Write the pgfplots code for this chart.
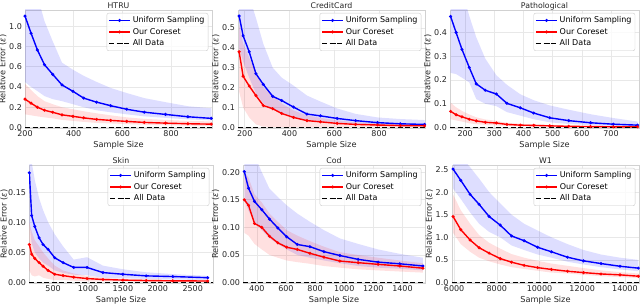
\documentclass[border=0pt]{standalone}
\usepackage{fontspec}
\setmainfont{DejaVu Sans}
\usepackage{pgfplots}
\pgfplotsset{compat=1.18}
\usepgfplotslibrary{fillbetween}

\pgfplotsset{
  base/.style={
    scale only axis, height=118pt,
    grid=major, grid style={color=black!9, line width=0.6pt},
    axis line style={black!18, line width=0.6pt},
    major tick length=0pt,
    /pgf/number format/assume math mode=true,
    /pgf/number format/1000 sep={},
    scaled ticks=false,
    ticklabel style={font=\fontsize{8}{9}\selectfont, text=black!85},
    xticklabel style={yshift=1pt},
    yticklabel style={xshift=0.5pt},
    label style={font=\fontsize{8.2}{9}\selectfont, text=black!85},
    every axis title shift=0pt,
    title style={font=\fontsize{7.8}{9}\selectfont, text=black!85, at={(0.5,1)}, anchor=base, yshift=1.8pt},
    xlabel={Sample Size}, ylabel={Relative Error (\textit{ε})},
    xlabel style={yshift=2pt}, ylabel style={yshift=-4pt},
    legend style={at={(0.98,0.975)}, anchor=north east, font=\fontsize{8}{9}\selectfont,
      draw=black!20, rounded corners=2pt, fill=white, fill opacity=0.8, text opacity=1,
      inner sep=1.5pt, row sep=0pt},
    legend cell align=left,
    legend image code/.code={\draw[mark repeat=2,mark phase=2] plot coordinates {(0cm,0cm) (0.37cm,0cm) (0.74cm,0cm)};},
  },
  ub/.style={blue, line width=1.4pt, mark=*, mark size=0.7pt},
  oc/.style={red, line width=1.4pt, mark=*, mark size=0.7pt},
  ad/.style={black, line width=1.4pt, dash pattern=on 5pt off 2.6pt},
  bb/.style={fill=blue, fill opacity=0.13, draw=none},
  rb/.style={fill=red, fill opacity=0.12, draw=none},
}

\begin{document}
\begin{tikzpicture}

% ---------------- HTRU ----------------
\begin{axis}[base, at={(25pt,179pt)}, anchor=south west, width=187pt,
  title={HTRU}, xmin=200, xmax=968, ymin=-0.005, ymax=1.16,
  xtick={200,400,600,800}, ytick={0,0.2,0.4,0.6,0.8,1.0},
  yticklabel style={/pgf/number format/.cd, fixed, fixed zerofill, precision=1}]
\addplot[name path=h1u, draw=none, forget plot] coordinates {(200,1.7)(225,1.5)(251,1.3)(280,1.05)(314,0.85)(352,0.64)(397,0.57)(441,0.51)(494,0.45)(552,0.39)(618,0.34)(690,0.29)(777,0.25)(869,0.21)(965,0.19)};
\addplot[name path=h1l, draw=none, forget plot] coordinates {(200,0.45)(225,0.40)(251,0.36)(280,0.31)(314,0.28)(352,0.26)(397,0.23)(441,0.2)(494,0.17)(552,0.15)(618,0.13)(690,0.11)(777,0.095)(869,0.08)(965,0.07)};
\addplot[bb, forget plot] fill between[of=h1u and h1l];
\addplot[name path=h2u, draw=none, forget plot] coordinates {(200,0.43)(225,0.37)(251,0.31)(280,0.26)(314,0.23)(352,0.20)(397,0.18)(441,0.16)(494,0.14)(552,0.12)(618,0.10)(690,0.085)(777,0.075)(869,0.065)(965,0.06)};
\addplot[name path=h2l, draw=none, forget plot] coordinates {(200,0.13)(225,0.12)(251,0.11)(280,0.10)(314,0.09)(352,0.075)(397,0.065)(441,0.055)(494,0.045)(552,0.04)(618,0.033)(690,0.027)(777,0.022)(869,0.018)(965,0.015)};
\addplot[rb, forget plot] fill between[of=h2u and h2l];
\addplot[ub] coordinates {(200,1.10)(225,0.93)(251,0.765)(280,0.62)(314,0.524)(352,0.42)(397,0.357)(441,0.29)(494,0.25)(552,0.215)(618,0.18)(690,0.151)(777,0.129)(869,0.106)(965,0.09)};
\addplot[oc] coordinates {(200,0.28)(225,0.24)(251,0.20)(280,0.17)(314,0.15)(352,0.125)(397,0.11)(441,0.095)(494,0.08)(552,0.07)(618,0.06)(690,0.05)(777,0.043)(869,0.037)(965,0.033)};
\addplot[ad] coordinates {(200,0)(968,0)};
\legend{Uniform Sampling, Our Coreset, All Data}
\end{axis}

% ---------------- CreditCard ----------------
\begin{axis}[base, at={(238pt,179pt)}, anchor=south west, width=187pt,
  title={CreditCard}, xmin=170, xmax=1005, ymin=-0.003, ymax=0.59,
  xtick={200,400,600,800}, ytick={0,0.1,0.2,0.3,0.4,0.5},
  yticklabel style={/pgf/number format/.cd, fixed, fixed zerofill, precision=1}]
\addplot[name path=c1u, draw=none, forget plot] coordinates {(175,0.75)(193,0.72)(220,0.66)(250,0.55)(283,0.42)(325,0.30)(365,0.25)(418,0.21)(478,0.16)(538,0.13)(613,0.095)(695,0.068)(793,0.05)(895,0.042)(1003,0.037)};
\addplot[name path=c1l, draw=none, forget plot] coordinates {(175,0.40)(193,0.33)(220,0.25)(250,0.17)(283,0.12)(325,0.09)(365,0.07)(418,0.05)(478,0.035)(538,0.03)(613,0.022)(695,0.016)(793,0.01)(895,0.007)(1003,0.005)};
\addplot[bb, forget plot] fill between[of=c1u and c1l];
\addplot[name path=c2u, draw=none, forget plot] coordinates {(175,0.52)(193,0.42)(220,0.35)(250,0.28)(283,0.20)(325,0.16)(365,0.12)(418,0.085)(478,0.06)(538,0.048)(613,0.035)(695,0.026)(793,0.02)(895,0.015)(1003,0.013)};
\addplot[name path=c2l, draw=none, forget plot] coordinates {(175,0.18)(193,0.10)(220,0.05)(250,0.015)(283,0.004)(325,0.002)(365,0.001)(418,0.001)(478,0.001)(538,0.001)(613,0.001)(695,0.001)(793,0.001)(895,0.001)(1003,0.001)};
\addplot[rb, forget plot] fill between[of=c2u and c2l];
\addplot[ub] coordinates {(175,0.56)(193,0.46)(220,0.38)(250,0.27)(283,0.216)(325,0.156)(365,0.135)(418,0.102)(478,0.067)(538,0.058)(613,0.045)(695,0.034)(793,0.024)(895,0.018)(1003,0.015)};
\addplot[oc] coordinates {(175,0.38)(193,0.257)(220,0.208)(250,0.16)(283,0.11)(325,0.094)(365,0.07)(418,0.05)(478,0.034)(538,0.028)(613,0.02)(695,0.015)(793,0.012)(895,0.009)(1003,0.008)};
\addplot[ad] coordinates {(170,0)(1005,0)};
\legend{Uniform Sampling, Our Coreset, All Data}
\end{axis}

% ---------------- Pathological ----------------
\begin{axis}[base, at={(450pt,179pt)}, anchor=south west, width=189pt,
  title={Pathological}, xmin=148, xmax=796, ymin=-0.002, ymax=0.495,
  xtick={200,300,400,500,600,700}, ytick={0,0.1,0.2,0.3,0.4},
  yticklabel style={/pgf/number format/.cd, fixed, fixed zerofill, precision=1}]
\addplot[name path=p1u, draw=none, forget plot] coordinates {(150,0.6)(169,0.6)(189,0.58)(214,0.47)(238,0.38)(269,0.29)(307,0.22)(343,0.18)(389,0.14)(435,0.115)(490,0.093)(555,0.075)(630,0.056)(708,0.04)(791,0.025)};
\addplot[name path=p1l, draw=none, forget plot] coordinates {(150,0.23)(169,0.225)(189,0.21)(214,0.19)(238,0.12)(269,0.10)(307,0.09)(343,0.065)(389,0.05)(435,0.035)(490,0.022)(555,0.015)(630,0.01)(708,0.007)(791,0.005)};
\addplot[bb, forget plot] fill between[of=p1u and p1l];
\addplot[name path=p2u, draw=none, forget plot] coordinates {(150,0.105)(169,0.085)(189,0.07)(214,0.055)(238,0.043)(269,0.034)(307,0.028)(343,0.02)(389,0.016)(435,0.013)(490,0.01)(555,0.008)(630,0.006)(708,0.005)(791,0.004)};
\addplot[name path=p2l, draw=none, forget plot] coordinates {(150,0.035)(169,0.03)(189,0.025)(214,0.018)(238,0.014)(269,0.011)(307,0.009)(343,0.007)(389,0.005)(435,0.004)(490,0.003)(555,0.002)(630,0.002)(708,0.001)(791,0.001)};
\addplot[rb, forget plot] fill between[of=p2u and p2l];
\addplot[ub] coordinates {(150,0.468)(169,0.40)(189,0.329)(214,0.253)(238,0.184)(269,0.157)(307,0.141)(343,0.102)(389,0.083)(435,0.061)(490,0.041)(555,0.029)(630,0.020)(708,0.014)(791,0.01)};
\addplot[oc] coordinates {(150,0.068)(169,0.054)(189,0.045)(214,0.035)(238,0.028)(269,0.022)(307,0.019)(343,0.013)(389,0.01)(435,0.009)(490,0.007)(555,0.005)(630,0.004)(708,0.003)(791,0.003)};
\addplot[ad] coordinates {(148,0)(796,0)};
\legend{Uniform Sampling, Our Coreset, All Data}
\end{axis}

% ---------------- Skin ----------------
\begin{axis}[base, at={(29pt,24pt)}, anchor=south west, width=184pt,
  title={Skin}, xmin=155, xmax=2790, ymin=-0.0008, ymax=0.195,
  xtick={500,1000,1500,2000,2500}, ytick={0,0.05,0.10,0.15},
  ylabel style={yshift=-2.5pt},
  yticklabel style={/pgf/number format/.cd, fixed, fixed zerofill, precision=2}]
\addplot[name path=s1u, draw=none, forget plot] coordinates {(160,0.21)(193,0.20)(238,0.17)(300,0.14)(357,0.12)(429,0.10)(524,0.08)(643,0.06)(795,0.038)(986,0.042)(1214,0.028)(1500,0.022)(1833,0.017)(2214,0.014)(2714,0.011)};
\addplot[name path=s1l, draw=none, forget plot] coordinates {(160,0.10)(193,0.065)(238,0.05)(300,0.04)(357,0.033)(429,0.028)(524,0.02)(643,0.016)(795,0.013)(986,0.012)(1214,0.008)(1500,0.007)(1833,0.006)(2214,0.005)(2714,0.004)};
\addplot[bb, forget plot] fill between[of=s1u and s1l];
\addplot[name path=s2u, draw=none, forget plot] coordinates {(160,0.10)(193,0.085)(238,0.07)(300,0.06)(357,0.05)(429,0.04)(524,0.028)(643,0.02)(795,0.015)(986,0.011)(1214,0.008)(1500,0.006)(1833,0.005)(2214,0.004)(2714,0.004)};
\addplot[name path=s2l, draw=none, forget plot] coordinates {(160,0.02)(193,0.012)(238,0.01)(300,0.012)(357,0.008)(429,0.006)(524,0.004)(643,0.004)(795,0.003)(986,0.002)(1214,0.002)(1500,0.002)(1833,0.001)(2214,0.001)(2714,0.001)};
\addplot[rb, forget plot] fill between[of=s2u and s2l];
\addplot[ub] coordinates {(160,0.182)(193,0.111)(238,0.093)(300,0.074)(357,0.063)(429,0.055)(524,0.041)(643,0.033)(795,0.025)(986,0.025)(1214,0.0165)(1500,0.0137)(1833,0.011)(2214,0.0099)(2714,0.008)};
\addplot[oc] coordinates {(160,0.063)(193,0.047)(238,0.040)(300,0.033)(357,0.027)(429,0.020)(524,0.0137)(643,0.0115)(795,0.0088)(986,0.0066)(1214,0.005)(1500,0.004)(1833,0.0033)(2214,0.0028)(2714,0.0025)};
\addplot[ad] coordinates {(155,0)(2790,0)};
\legend{Uniform Sampling, Our Coreset, All Data}
\end{axis}

% ---------------- Cod ----------------
\begin{axis}[base, at={(243pt,24pt)}, anchor=south west, width=182pt,
  title={Cod}, xmin=305, xmax=1555, ymin=-0.0008, ymax=0.213,
  xtick={400,600,800,1000,1200,1400}, ytick={0,0.05,0.10,0.15,0.20},
  yticklabel style={/pgf/number format/.cd, fixed, fixed zerofill, precision=2}]
\addplot[name path=d1u, draw=none, forget plot] coordinates {(314,0.27)(343,0.25)(384,0.23)(434,0.2)(487,0.17)(544,0.155)(605,0.14)(678,0.125)(765,0.11)(861,0.095)(970,0.08)(1096,0.07)(1233,0.06)(1382,0.052)(1541,0.045)};
\addplot[name path=d1l, draw=none, forget plot] coordinates {(314,0.15)(343,0.13)(384,0.11)(434,0.095)(487,0.08)(544,0.07)(605,0.06)(678,0.05)(765,0.045)(861,0.04)(970,0.035)(1096,0.03)(1233,0.027)(1382,0.025)(1541,0.022)};
\addplot[bb, forget plot] fill between[of=d1u and d1l];
\addplot[name path=d2u, draw=none, forget plot] coordinates {(314,0.20)(343,0.19)(384,0.16)(434,0.145)(487,0.125)(544,0.11)(605,0.095)(678,0.085)(765,0.075)(861,0.065)(970,0.055)(1096,0.05)(1233,0.045)(1382,0.04)(1541,0.035)};
\addplot[name path=d2l, draw=none, forget plot] coordinates {(314,0.09)(343,0.085)(384,0.07)(434,0.06)(487,0.05)(544,0.045)(605,0.04)(678,0.037)(765,0.034)(861,0.03)(970,0.027)(1096,0.024)(1233,0.022)(1382,0.02)(1541,0.018)};
\addplot[rb, forget plot] fill between[of=d2u and d2l];
\addplot[ub] coordinates {(314,0.201)(343,0.171)(384,0.147)(434,0.132)(487,0.115)(544,0.099)(605,0.083)(678,0.069)(765,0.065)(861,0.056)(970,0.049)(1096,0.042)(1233,0.037)(1382,0.034)(1541,0.030)};
\addplot[oc] coordinates {(314,0.150)(343,0.140)(384,0.107)(434,0.100)(487,0.084)(544,0.072)(605,0.064)(678,0.060)(765,0.053)(861,0.046)(970,0.039)(1096,0.036)(1233,0.033)(1382,0.030)(1541,0.026)};
\addplot[ad] coordinates {(305,0)(1555,0)};
\legend{Uniform Sampling, Our Coreset, All Data}
\end{axis}

% ---------------- W1 ----------------
\begin{axis}[base, at={(452pt,24pt)}, anchor=south west, width=187pt,
  title={W1}, xmin=5900, xmax=14660, ymin=-0.01, ymax=2.6,
  xtick={6000,8000,10000,12000,14000}, ytick={0,0.5,1.0,1.5,2.0,2.5},
  xticklabel style={yshift=0pt},
  yticklabel style={xshift=-0.5pt, /pgf/number format/.cd, fixed, fixed zerofill, precision=1}]
\addplot[name path=w1u, draw=none, forget plot] coordinates {(5950,2.95)(6310,2.8)(6750,2.55)(7170,2.3)(7640,2.0)(8160,1.75)(8690,1.5)(9280,1.3)(9910,1.15)(10560,1.0)(11310,0.85)(12060,0.72)(12880,0.62)(13770,0.55)(14630,0.5)};
\addplot[name path=w1l, draw=none, forget plot] coordinates {(5950,2.08)(6310,1.85)(6750,1.55)(7170,1.3)(7640,1.12)(8160,1.0)(8690,0.82)(9280,0.72)(9910,0.62)(10560,0.55)(11310,0.46)(12060,0.4)(12880,0.34)(13770,0.29)(14630,0.25)};
\addplot[bb, forget plot] fill between[of=w1u and w1l];
\addplot[name path=w2u, draw=none, forget plot] coordinates {(5950,1.95)(6310,1.6)(6750,1.3)(7170,1.05)(7640,0.88)(8160,0.75)(8690,0.63)(9280,0.55)(9910,0.48)(10560,0.42)(11310,0.37)(12060,0.32)(12880,0.27)(13770,0.23)(14630,0.2)};
\addplot[name path=w2l, draw=none, forget plot] coordinates {(5950,1.1)(6310,0.85)(6750,0.68)(7170,0.55)(7640,0.47)(8160,0.4)(8690,0.34)(9280,0.3)(9910,0.26)(10560,0.22)(11310,0.2)(12060,0.17)(12880,0.14)(13770,0.12)(14630,0.1)};
\addplot[rb, forget plot] fill between[of=w2u and w2l];
\addplot[ub] coordinates {(5950,2.51)(6310,2.26)(6750,1.95)(7170,1.73)(7640,1.46)(8160,1.27)(8690,1.03)(9280,0.925)(9910,0.78)(10560,0.68)(11310,0.56)(12060,0.48)(12880,0.42)(13770,0.36)(14630,0.318)};
\addplot[oc] coordinates {(5950,1.46)(6310,1.17)(6750,0.94)(7170,0.77)(7640,0.65)(8160,0.53)(8690,0.45)(9280,0.38)(9910,0.33)(10560,0.29)(11310,0.25)(12060,0.22)(12880,0.19)(13770,0.17)(14630,0.14)};
\addplot[ad] coordinates {(5900,0)(14660,0)};
\legend{Uniform Sampling, Our Coreset, All Data}
\end{axis}
\pgfresetboundingbox
\path[use as bounding box] (0,0) rectangle (640pt,307pt);
\end{tikzpicture}
\end{document}
